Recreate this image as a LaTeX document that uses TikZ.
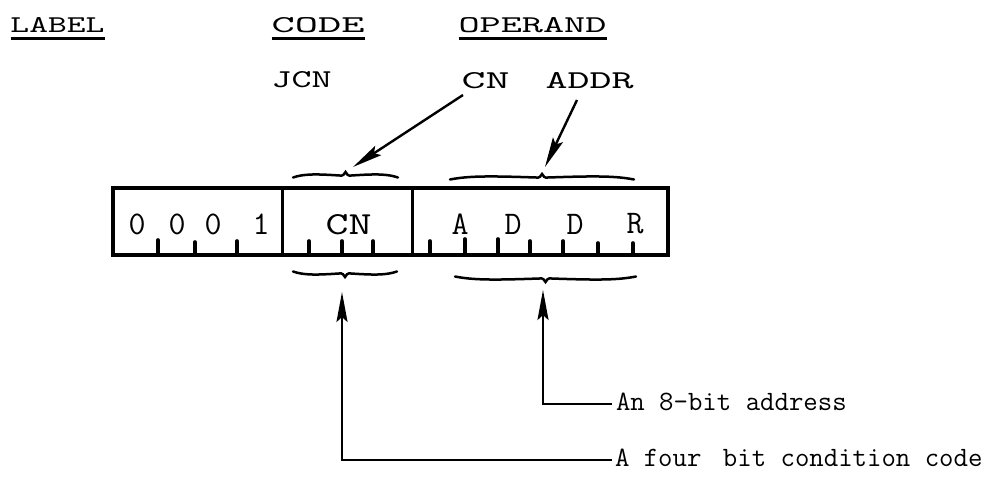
\documentclass[tikz,border=0pt]{standalone}
\usetikzlibrary{arrows.meta}
\tikzset{
  boxline/.style={line width=3.4pt},
  divline/.style={line width=3pt},
  tickline/.style={line width=3.6pt, line cap=round},
  conn/.style={line width=2.4pt, -{Stealth[length=30pt,width=11pt,inset=5pt]}},
  bracestyle/.style={line width=2.5pt, line cap=round},
  uline/.style={line width=2.4pt},
  lbl/.style={inner sep=0pt, outer sep=0pt, font=\ttfamily},
  regfont/.style={inner sep=0pt, outer sep=0pt, font=\ttfamily\fontsize{33}{36}\selectfont},
  btmfont/.style={inner sep=0pt, outer sep=0pt, anchor=base west, font=\ttfamily\fontsize{28}{31}\selectfont},
}
\newcommand\hdr[3]{\resizebox{#1pt}{#2pt}{#3}}
\newcommand\bracepath[4]{%
 \pgfmathsetmacro\bxa{#1}\pgfmathsetmacro\bxb{#2}%
 \pgfmathsetmacro\bxm{(#1+#2)/2}\pgfmathsetmacro\brw{#2-#1}%
 \draw[bracestyle] (\bxa,{#3+2.5*#4})
   .. controls ({\bxa+0.1*\brw},{#3-1*#4}) and ({\bxm-0.3*\brw},{#3-1.2*#4}) .. ({\bxm-6},{#3+0.5*#4})
   .. controls ({\bxm-2.5},{#3+1.2*#4}) and ({\bxm-1},{#3-1*#4}) .. (\bxm,{#3-3*#4})
   .. controls ({\bxm+1},{#3-1*#4}) and ({\bxm+2.5},{#3+1.2*#4}) .. ({\bxm+6},{#3+0.5*#4})
   .. controls ({\bxm+0.3*\brw},{#3-1.2*#4}) and ({\bxb-0.1*\brw},{#3-1*#4}) .. (\bxb,{#3+2.5*#4});}
\begin{document}
\begin{tikzpicture}[x=1pt,y=-1pt]
\fill[white] (0,0) rectangle (996,486);
\useasboundingbox (0,0) rectangle (996,486);

% header
\node[lbl] (label) at (57.5,25.5) {\hdr{94}{15}{LABEL}};
\node[lbl] (code) at (318,25.5) {\hdr{93}{15}{CODE}};
\node[lbl] (operand) at (532.5,25.5) {\hdr{148}{15}{OPERAND}};
\draw[uline] ([yshift=-5.5pt]label.south west) -- ([yshift=-5.5pt]label.south east);
\draw[uline] ([yshift=-5.5pt]code.south west) -- ([yshift=-5.5pt]code.south east);
\draw[uline] ([yshift=-5.5pt]operand.south west) -- ([yshift=-5.5pt]operand.south east);

\node[lbl] (jcn) at (301.5,80) {\hdr{60}{16}{JCN}};
\node[lbl] (cnop) at (485.5,81) {\hdr{48}{16}{CN}};
\node[lbl] (addrop) at (589.5,81) {\hdr{88}{16}{ADDR}};

% register
\node[draw, boxline, minimum width=555pt, minimum height=67pt, inner sep=0pt] (reg) at (390.5,221.5) {};
\draw[divline] (282,188) -- (282,255);
\draw[divline] (412,188) -- (412,255);
\foreach \tx/\th in {158/14,195/12,237/13,309/13,342/13,373/13,430/13,465/15,498/15,530/13,563/13,598/11,633/11}
  \draw[tickline] (\tx,254) -- (\tx,{254-\th});

\node[regfont] (b1) at (137,224) {0};
\node[regfont] (b2) at (177,224) {0};
\node[regfont] (b3) at (213,224) {0};
\node[regfont] (b4) at (261,224) {1};
\node[lbl] (cnreg) at (348.5,225) {\resizebox{46pt}{20pt}{CN}};
\node[regfont] (ra) at (460,224) {A};
\node[regfont] (rd1) at (513,224) {D};
\node[regfont] (rd2) at (575,224) {D};
\node[regfont] (rr) at (635,224) {R};

% braces
\bracepath{293}{398}{175}{1}
\bracepath{450}{634}{177}{1}
\bracepath{293}{397}{274}{-1}
\bracepath{455}{636}{279}{-1}

% arrows from operand labels
\coordinate (cnA) at (463,95);
\coordinate (cnT) at (353,167);
\coordinate (adA) at (577,100);
\coordinate (adT) at (545,167);
\draw[conn] (cnA) -- (cnT);
\draw[conn] (adA) -- (adT);

% bottom texts and arrows
\node[btmfont] (addrtxt) at (616,410) {An 8-bit address};
\node[btmfont] (fourtxt) at (615,466) {A four\hspace{0.25em} bit condition code};
\coordinate (addrEnd) at (612,404);
\coordinate (addrUp) at (543,290);
\coordinate (fourEnd) at (612,460);
\coordinate (cnUp) at (342,292);
\draw[conn] (addrEnd) -| (addrUp);
\draw[conn] (fourEnd) -| (cnUp);
\end{tikzpicture}
\end{document}
